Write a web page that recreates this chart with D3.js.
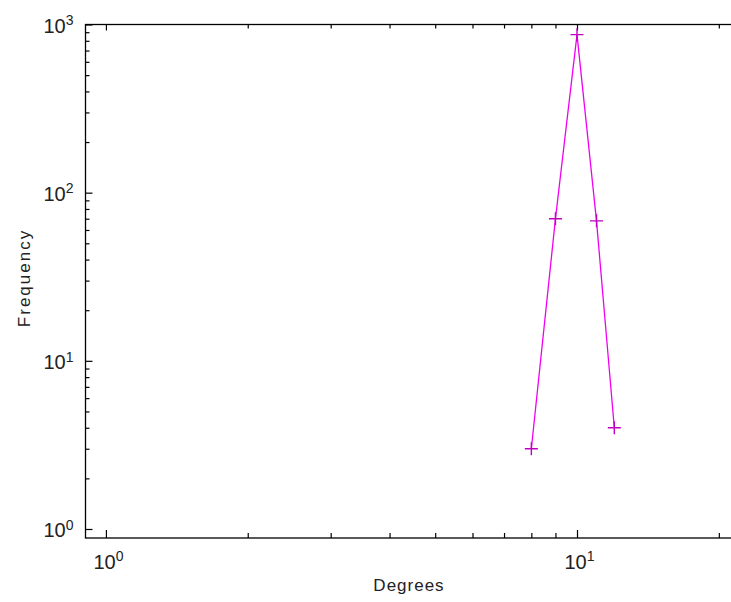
<!DOCTYPE html>
<html>
<head>
<meta charset="utf-8">
<script src="https://cdn.jsdelivr.net/npm/d3@7"></script>
<style>
  body { margin: 0; background: #fff; }
  svg { display: block; }
  .axis path, .axis line { stroke: #000; stroke-width: 1.2px; }
  .axis text { font-family: "Liberation Sans", Arial, sans-serif; fill: #222; }
</style>
</head>
<body>
<svg width="731" height="602"></svg>
<script>
// degree distribution, log-log
var degrees = [8, 9, 10, 11, 12];
var frequency = [3, 70, 870, 68, 4];
var xMajor = [1, 10];
var yMajor = [1, 10, 100, 1000];
var xMinor = [2, 3, 4, 5, 6, 7, 8, 9, 20];
var yMinor = [2, 3, 4, 5, 6, 7, 8, 9, 20, 30, 40, 50, 60, 70, 80, 90, 200, 300, 400, 500, 600, 700, 800, 900];
var xLabel = "Degrees", yLabel = "Frequency";

var svg = d3.select("svg"),
    box = {left: 85.5, right: 742, top: 24.5, bottom: 538};

var xScale = d3.scaleLog().domain([0.905, 22.4]).range([box.left, box.right]);
var yScale = d3.scaleLog().domain([0.884, 1000]).range([box.bottom, box.top]);

// box
svg.append("rect")
  .attr("x", box.left).attr("y", box.top)
  .attr("width", box.right - box.left).attr("height", box.bottom - box.top)
  .attr("fill", "none").attr("stroke", "#000").attr("stroke-width", 1.3);

function pow10(t) { return Math.round(Math.log10(t)); }

function supLabels(sel) {
  sel.selectAll(".tick text").each(function(d) {
    var t = d3.select(this).text("");
    t.append("tspan").text("10");
    t.append("tspan").attr("dy", "-0.55em").style("font-size", "14px").text(pow10(d));
  });
}

function noDomain(g) { g.select(".domain").remove(); }
function blank() { return ""; }

// major ticks + labels
svg.append("g").attr("class", "axis")
  .attr("transform", "translate(0," + box.bottom + ")")
  .call(d3.axisBottom(xScale).tickValues(xMajor).tickSize(-8))
  .call(noDomain)
  .style("font-size", "20px")
  .call(supLabels)
  .selectAll(".tick text").attr("y", 31).attr("dy", 0).attr("dx", 2);

svg.append("g").attr("class", "axis")
  .attr("transform", "translate(0," + box.top + ")")
  .call(d3.axisTop(xScale).tickValues(xMajor).tickSize(-6).tickFormat(blank))
  .call(noDomain);

svg.append("g").attr("class", "axis")
  .attr("transform", "translate(" + box.left + ",0)")
  .call(d3.axisLeft(yScale).tickValues(yMajor).tickSize(-7).tickPadding(12))
  .call(noDomain)
  .style("font-size", "20px")
  .call(supLabels)
  .selectAll(".tick text").attr("dy", "0.4em");

svg.append("g").attr("class", "axis")
  .attr("transform", "translate(" + box.right + ",0)")
  .call(d3.axisRight(yScale).tickValues(yMajor).tickSize(-7).tickFormat(blank))
  .call(noDomain);

// minor ticks, same scales
svg.append("g").attr("class", "axis")
  .attr("transform", "translate(0," + box.bottom + ")")
  .call(d3.axisBottom(xScale).tickValues(xMinor).tickSize(-5).tickFormat(blank))
  .call(noDomain);

svg.append("g").attr("class", "axis")
  .attr("transform", "translate(0," + box.top + ")")
  .call(d3.axisTop(xScale).tickValues(xMinor).tickSize(-4).tickFormat(blank))
  .call(noDomain);

svg.append("g").attr("class", "axis")
  .attr("transform", "translate(" + box.left + ",0)")
  .call(d3.axisLeft(yScale).tickValues(yMinor).tickSize(-4).tickFormat(blank))
  .call(noDomain);

// axis titles
svg.append("text")
  .attr("x", 409).attr("y", 591)
  .attr("text-anchor", "middle")
  .style("font", "17px 'Liberation Sans', Arial, sans-serif")
  .style("letter-spacing", "1px")
  .attr("fill", "#222")
  .text(xLabel);

svg.append("text")
  .attr("transform", "translate(29.5,278) rotate(-90)")
  .attr("text-anchor", "middle")
  .style("font", "17px 'Liberation Sans', Arial, sans-serif")
  .style("letter-spacing", "2px")
  .attr("fill", "#222")
  .text(yLabel);

// series
var pts = degrees.map(function(d, i) { return {x: d, y: frequency[i]}; });

var line = d3.line()
  .x(function(d) { return xScale(d.x); })
  .y(function(d) { return yScale(d.y); });

svg.append("path")
  .datum(pts)
  .attr("d", line)
  .attr("fill", "none")
  .attr("stroke", "#f000f0")
  .attr("stroke-width", 1.3);

var m = 6.5;
svg.selectAll(".mark")
  .data(pts)
  .enter().append("path")
  .attr("class", "mark")
  .attr("d", function(d) {
    var cx = xScale(d.x), cy = yScale(d.y);
    return "M" + (cx - m) + "," + cy + "H" + (cx + m) + "M" + cx + "," + (cy - m) + "V" + (cy + m);
  })
  .attr("stroke", "#c000c0")
  .attr("stroke-width", 1.4)
  .attr("fill", "none");
</script>
</body>
</html>
